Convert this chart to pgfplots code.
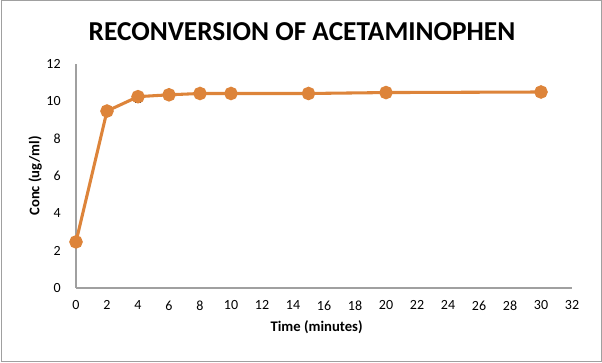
\documentclass[border=0pt]{standalone}
\usepackage{pgfplots}
\pgfplotsset{compat=1.18}
\usepackage{fontspec}
\setmainfont{Carlito}
\definecolor{lineor}{RGB}{221,132,58}
\definecolor{axgray}{RGB}{160,160,160}
\begin{document}
\begin{tikzpicture}[x=0.75pt,y=0.75pt]
\draw[draw=axgray,line width=0.75pt] (1,1) rectangle (601,362);
\path (0,0) rectangle (602,363);
\node[font=\bfseries\fontsize{20.5}{22}\selectfont] at (302,331) {RECONVERSION OF ACETAMINOPHEN};
\begin{axis}[
  at={(76*0.75pt,75*0.75pt)}, anchor=south west,
  scale only axis, width=372pt, height=168pt,
  xmin=0, xmax=32, ymin=0, ymax=12,
  xtick={0,2,...,32}, ytick={0,2,...,12},
  axis x line=bottom, axis y line=left,
  axis line style={-, draw=axgray, line width=0.9pt},
  major tick length=0pt,
  tick label style={font=\fontsize{10.5}{12}\selectfont},
  /pgf/number format/assume math mode=true,
  xticklabel style={yshift=-6pt},
  yticklabel style={xshift=-8pt},
  xlabel={\textbf{Time (minutes)}},
  ylabel={\textbf{Conc (ug/ml)}},
  label style={font=\fontsize{11}{13}\selectfont},
  xlabel style={at={(axis description cs:0.485,0)}, anchor=north, yshift=-21pt},
  ylabel style={at={(axis description cs:0,0.5)}, anchor=south, yshift=22pt},
  clip=false,
]
\addplot[color=lineor, line width=2.3pt, mark=*, mark size=3.9pt,
  mark options={fill=lineor, draw=lineor},
  error bars/.cd, y dir=both, y explicit,
  error bar style={black!80, line width=0.8pt}, error mark options={black!80, line width=0.8pt, mark size=2.5pt, rotate=90}]
coordinates {
(0,2.47) +- (0,0)
(2,9.48) +- (0,0)
(4,10.25) +- (0,0.3)
(6,10.35) +- (0,0)
(8,10.42) +- (0,0)
(10,10.42) +- (0,0)
(15,10.42) +- (0,0)
(20,10.47) +- (0,0)
(30,10.5) +- (0,0)
};
\end{axis}
\end{tikzpicture}
\end{document}
